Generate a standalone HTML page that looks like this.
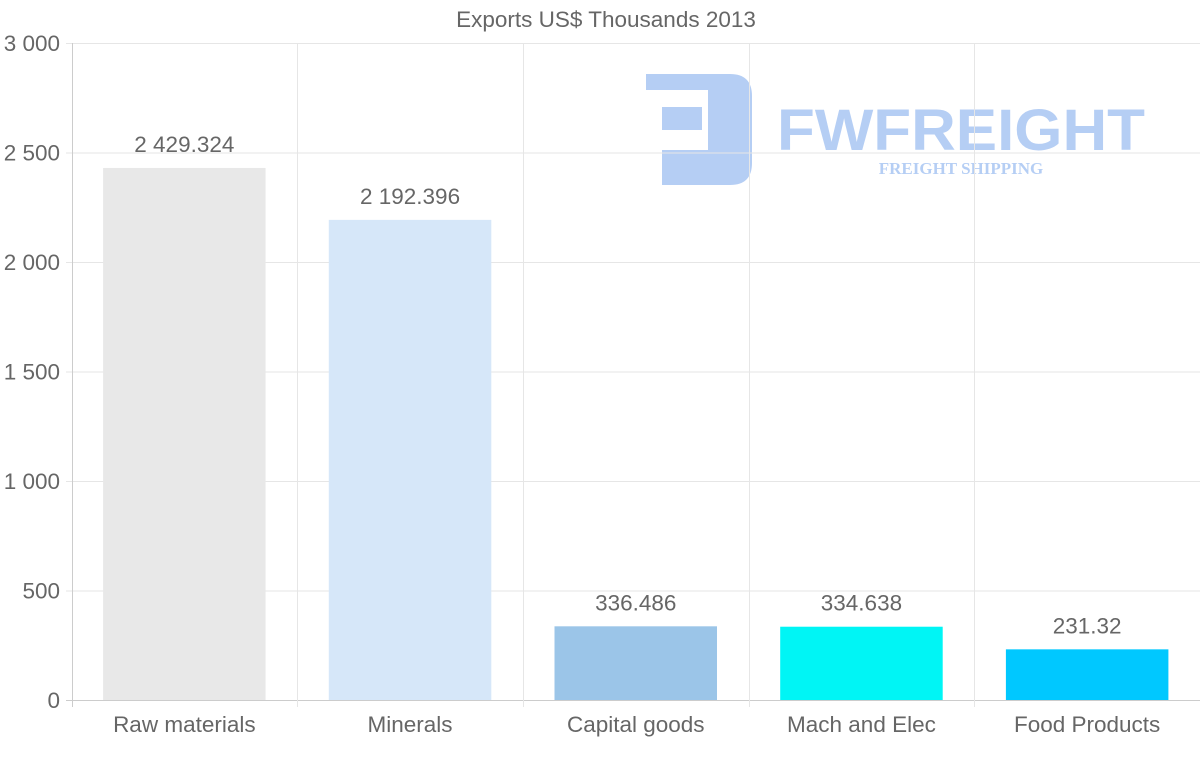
<!DOCTYPE html>
<html><head><meta charset="utf-8"><style>
html,body{margin:0;padding:0;background:#fff;width:1200px;height:763px;overflow:hidden}
svg{display:block;font-family:"Liberation Sans",sans-serif}
</style></head><body>
<svg id="chart" width="1200" height="763">
<text x="606" y="27" text-anchor="middle" font-size="22.5" fill="#666">Exports US$ Thousands 2013</text>
<g opacity="0.85" fill="#a9c6f3">
<path d="M646 74 H730 Q752 74 752 96 V163 Q752 185 730 185 H662 V150 H708 V90 H646 Z"/>
<rect x="662" y="107" width="40" height="23"/>
<text x="961" y="150" text-anchor="middle" font-size="58" font-weight="bold" textLength="368" lengthAdjust="spacingAndGlyphs">FWFREIGHT</text>
<text x="961" y="174" text-anchor="middle" font-size="17" font-weight="bold" font-family="Liberation Serif,serif">FREIGHT SHIPPING</text>
</g>
<g id="grid"></g><g id="bars"></g>
</svg>
<script>
const categories=["Raw materials","Minerals","Capital goods","Mach and Elec","Food Products"];
const values=[2429.324,2192.396,336.486,334.638,231.32];
const valueLabels=["2 429.324","2 192.396","336.486","334.638","231.32"];
const colors=["#e8e8e8","#d6e7f9","#9bc5e8","#00f5f5","#00c8ff"];
const yTicks=[0,500,1000,1500,2000,2500,3000];
const yTickLabels=["0","500","1 000","1 500","2 000","2 500","3 000"];
const NS="http://www.w3.org/2000/svg";
const L=71.5,R=1200,T=43,B=700,yMax=3000;
const y=v=>B-(v/yMax)*(B-T);
const bw=(R-L)/categories.length;
const x=i=>L+bw*i;
const grid=document.getElementById('grid'),bars=document.getElementById('bars');
function mk(tag,attrs,parent){const e=document.createElementNS(NS,tag);for(const k in attrs)e.setAttribute(k,attrs[k]);parent.appendChild(e);return e;}
yTicks.forEach((t,i)=>{
 const g=mk('line',{x1:66,x2:R,y1:y(t)+0.5,y2:y(t)+0.5,stroke:t===0?'#ccc':'#e6e6e6'},grid);
 
 
 const tx=mk('text',{x:60,y:y(t)+8,'text-anchor':'end','font-size':22.5,fill:'#666'},grid);
 tx.textContent=yTickLabels[i];
 
 
});
for(let i=0;i<=categories.length;i++){
 const g=mk('line',{x1:Math.round(x(i))+0.5,x2:Math.round(x(i))+0.5,y1:T,y2:B+7,stroke:i===0?'#ccc':'#e6e6e6'},grid);
 
 
}
categories.forEach((c,i)=>{
 const w=bw*0.72,cx=x(i)+bw/2;
 const r=mk('rect',{x:cx-w/2,y:y(values[i]),width:w,height:B-y(values[i]),fill:colors[i]},bars);
 
 
 const v=mk('text',{x:cx,y:y(values[i])-16,'text-anchor':'middle','font-size':22.5,fill:'#666'},bars);
 v.textContent=valueLabels[i];
 
 
 const l=mk('text',{x:cx,y:732,'text-anchor':'middle','font-size':22.5,fill:'#666'},bars);
 l.textContent=c;
 
 
});
</script>
</body></html>
